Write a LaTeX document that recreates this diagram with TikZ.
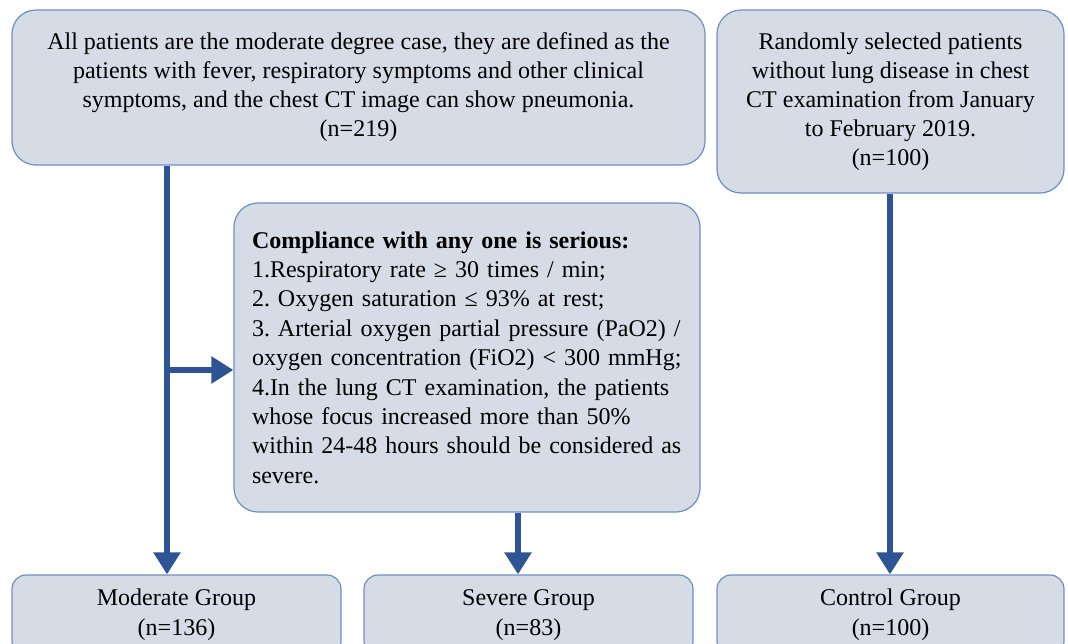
\documentclass[tikz,border=0pt]{standalone}
\usepackage{fontspec}
\setmainfont{Liberation Serif}
\usetikzlibrary{arrows.meta}
\frenchspacing
\definecolor{boxfill}{RGB}{214,220,229}
\definecolor{boxline}{RGB}{110,143,196}
\definecolor{arrblue}{RGB}{47,84,150}
\tikzset{
  box/.style={draw=boxline, line width=1.2pt, fill=boxfill, rounded corners=24pt, inner sep=0pt, align=center, font=\fontsize{24}{29}\selectfont},
  groupbox/.style={box, rounded corners=14pt, minimum height=80pt, font=\fontsize{24}{30}\selectfont},
  arr/.style={draw=arrblue, line width=6.5pt, -{Triangle[length=22pt,width=26pt]}}
}
\begin{document}
\begin{tikzpicture}[x=1pt,y=-1pt]
\useasboundingbox (0,0) rectangle (1068,643);
\clip (0,0) rectangle (1068,643);
\node[box, minimum width=693pt, minimum height=155pt] (tl) at (358.5,87.5)
  {All patients are the moderate degree case, they are defined as the\\
   patients with fever, respiratory symptoms and other clinical\\
   symptoms, and the chest CT image can show pneumonia.\\
   (n=219)};
\node[box, minimum width=347pt, minimum height=183pt] (tr) at (890.5,101.5)
  {Randomly selected patients\\
   without lung disease in chest\\
   CT examination from January\\
   to February 2019.\\
   (n=100)};
\node[box, minimum width=466pt, minimum height=309pt, align=left, text width=430pt, font=\fontsize{24}{29.4}\selectfont] (mid) at (467,357.5)
  {\textbf{Compliance with any one is serious:}\\
   1.Respiratory rate ≥ 30 times / min;\\
   2. Oxygen saturation ≤ 93\% at rest;\\
   3. Arterial oxygen partial pressure (PaO2) /\\
   oxygen concentration (FiO2) < 300 mmHg;\\
   4.In the lung CT examination, the patients\\
   whose focus increased more than 50\%\\
   within 24-48 hours should be considered as\\
   severe.};
\node[groupbox, minimum width=329pt] (mod) at (176.5,615)
  {Moderate Group\\(n=136)};
\node[groupbox, minimum width=329pt] (sev) at (528.5,615)
  {Severe Group\\(n=83)};
\node[groupbox, minimum width=347pt] (ctl) at (890.5,615)
  {Control Group\\(n=100)};
\coordinate (xa) at (167,0);
\coordinate (xb) at (518,0);
\coordinate (xc) at (890,0);
\coordinate (br) at (167,370);
\draw[arr] (tl.south -| xa) -- (mod.north -| xa);
\draw[arr] (br) -- (br -| mid.west);
\draw[arr] (mid.south -| xb) -- (sev.north -| xb);
\draw[arr] (tr.south -| xc) -- (ctl.north -| xc);
\end{tikzpicture}
\end{document}
